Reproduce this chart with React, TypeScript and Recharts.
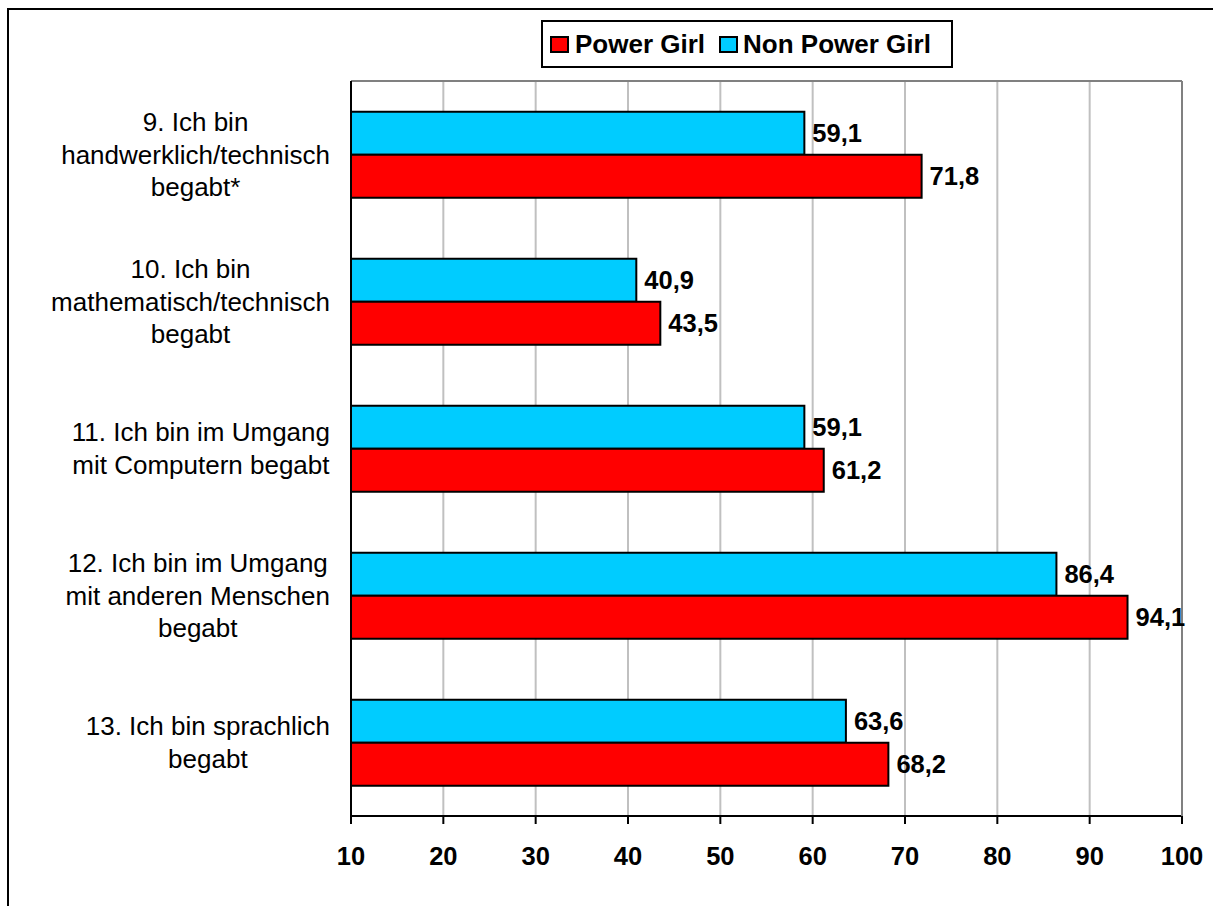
import React from 'react';
import { BarChart, Bar, XAxis, YAxis, CartesianGrid, LabelList } from 'recharts';

const categories = [
  '9. Ich bin\nhandwerklich/technisch\nbegabt*',
  '10. Ich bin\nmathematisch/technisch\nbegabt',
  '11. Ich bin im Umgang\nmit Computern begabt',
  '12. Ich bin im Umgang\nmit anderen Menschen\nbegabt',
  '13. Ich bin sprachlich\nbegabt',
];
const powerGirl = [71.8, 43.5, 61.2, 94.1, 68.2];
const nonPowerGirl = [59.1, 40.9, 59.1, 86.4, 63.6];
const xTicks = [10, 20, 30, 40, 50, 60, 70, 80, 90, 100];
const bandTicks = [0, 1, 2, 3, 4, 5];
const seriesNames = ['Power Girl', 'Non Power Girl'];

const data = categories.map((c, i) => ({ category: c, power: powerGirl[i], non: nonPowerGirl[i] }));

const FONT = '"Liberation Sans", Arial, Helvetica, sans-serif';
const RED = '#ff0000';
const CYAN = '#00ccff';

let ctx: CanvasRenderingContext2D | null = null;
function measure(t: string, size: number) {
  if (!ctx) ctx = document.createElement('canvas').getContext('2d');
  if (!ctx) return t.length * size * 0.5;
  ctx.font = `${size}px "Liberation Sans", Arial, sans-serif`;
  return ctx.measureText(t).width;
}

const CatTick = (props: any) => {
  const { y, payload } = props;
  const lines = String(payload.value).split('\n');
  const fs = 26;
  const maxW = Math.max(...lines.map((l) => measure(l, fs)));
  const right = 330;
  const cx = right - maxW / 2;
  const lh = 32.5;
  return (
    <text textAnchor="middle" fontSize={fs} fontFamily={FONT} fill="#000">
      {lines.map((l, i) => (
        <tspan key={i} x={cx} y={y + (i - (lines.length - 1) / 2) * lh + 9}>
          {l}
        </tspan>
      ))}
    </text>
  );
};

const fmt = (v: any) => Number(v).toFixed(1).replace('.', ',');

const labelStyle = { fontSize: 25.5, fontWeight: 'bold' as const, fontFamily: FONT, fill: '#000' };

export default function App() {
  return (
    <div style={{ position: 'fixed', left: 0, top: 0, width: 1213, height: 906, overflow: 'hidden', background: '#fff' }}>
      <div
        style={{
          position: 'absolute',
          left: 7,
          top: 8,
          width: 1220,
          height: 910,
          borderLeft: '2px solid #000',
          borderTop: '2px solid #000',
        }}
      />
      <div style={{ position: 'absolute', left: 0, top: 0 }}>
        <BarChart
          width={1213}
          height={906}
          data={data}
          layout="vertical"
          margin={{ top: 80, right: 30, bottom: 30, left: 0 }}
          barCategoryGap="21%"
          barGap={0}
        >
          <CartesianGrid horizontal={false} vertical stroke="#c0c0c0" strokeWidth={2} yAxisId="cat" />
          <XAxis
            xAxisId="top"
            orientation="top"
            type="number"
            domain={[10, 100]}
            ticks={xTicks}
            height={1}
            tick={false}
            tickLine={false}
            axisLine={{ stroke: '#808080', strokeWidth: 2 }}
            allowDataOverflow
          />
          <XAxis
            type="number"
            domain={[10, 100]}
            ticks={xTicks}
            interval={0}
            height={60}
            tickSize={8}
            tickMargin={23}
            allowDataOverflow
            tickLine={{ stroke: '#000', strokeWidth: 2 }}
            axisLine={{ stroke: '#000', strokeWidth: 2 }}
            stroke="#000"
            tick={{ fill: '#000', fontSize: 25.5, fontWeight: 'bold', fontFamily: FONT }}
          />
          <YAxis
            yAxisId="cat"
            type="category"
            dataKey="category"
            width={350}
            axisLine={false}
            tickLine={false}
            tickSize={0}
            tickMargin={0}
            interval={0}
            tick={<CatTick />}
          />
          <YAxis
            yAxisId="a_ticks"
            type="number"
            domain={[0, 5]}
            ticks={bandTicks}
            interval={0}
            allowDataOverflow
            width={1}
            tick={false}
            tickSize={8}
            stroke="#000"
            tickLine={{ stroke: '#000', strokeWidth: 2 }}
            axisLine={{ stroke: '#000', strokeWidth: 2 }}
          />
          <YAxis
            yAxisId="right"
            orientation="right"
            type="number"
            domain={[0, 5]}
            allowDataOverflow
            width={1}
            tick={false}
            tickLine={false}
            axisLine={{ stroke: '#808080', strokeWidth: 2 }}
          />
          <Bar yAxisId="cat" dataKey="non" name={seriesNames[1]} fill={CYAN} stroke="#000" strokeWidth={2} isAnimationActive={false}>
            <LabelList dataKey="non" position="right" offset={8} formatter={fmt} style={labelStyle} />
          </Bar>
          <Bar yAxisId="cat" dataKey="power" name={seriesNames[0]} fill={RED} stroke="#000" strokeWidth={2} isAnimationActive={false}>
            <LabelList dataKey="power" position="right" offset={8} formatter={fmt} style={labelStyle} />
          </Bar>
        </BarChart>
      </div>
      <div
        style={{
          position: 'absolute',
          left: 541,
          top: 20,
          width: 412,
          height: 48,
          boxSizing: 'border-box',
          border: '2px solid #000',
          background: '#fff',
          display: 'flex',
          alignItems: 'center',
          fontFamily: FONT,
          fontWeight: 'bold',
          fontSize: 26,
          color: '#000',
          whiteSpace: 'nowrap',
        }}
      >
        <span style={{ display: 'inline-block', width: 19, height: 17, boxSizing: 'border-box', border: '2px solid #000', background: RED, marginLeft: 7, marginRight: 6 }} />
        <span>{seriesNames[0]}</span>
        <span style={{ display: 'inline-block', width: 19, height: 17, boxSizing: 'border-box', border: '2px solid #000', background: CYAN, marginLeft: 14, marginRight: 5 }} />
        <span>{seriesNames[1]}</span>
      </div>
    </div>
  );
}
